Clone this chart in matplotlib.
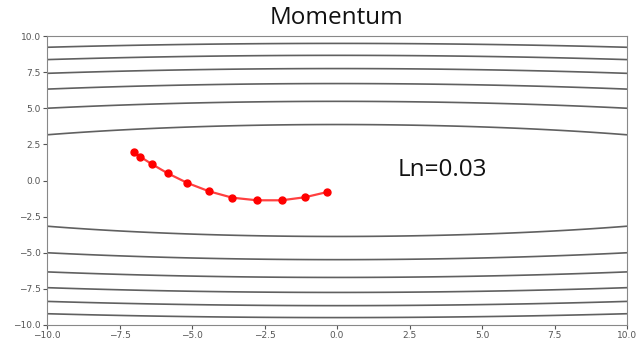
import matplotlib
matplotlib.use("Agg")
import matplotlib.pyplot as plt
import numpy as np

# trajectory
path_x = [-7.0, -6.79, -6.39, -5.84, -5.16, -4.41, -3.61, -2.76, -1.91, -1.11, -0.34]
path_y = [1.95, 1.65, 1.14, 0.50, -0.17, -0.75, -1.19, -1.37, -1.37, -1.16, -0.80]

# contour levels of f(x, y) = x^2 / 20 + y^2
levels = [0, 15, 30, 45, 60, 75, 90, 105]
x_ticks = [-10.0, -7.5, -5.0, -2.5, 0.0, 2.5, 5.0, 7.5, 10.0]
y_ticks = [-10.0, -7.5, -5.0, -2.5, 0.0, 2.5, 5.0, 7.5, 10.0]


def f(x, y):
    return x ** 2 / 20.0 + y ** 2


fig = plt.figure(figsize=(6.39, 3.47), dpi=100)
ax = fig.add_axes([47 / 639, 1 - 325 / 347, 580 / 639, 289 / 347])

gx = np.linspace(-10, 10, 801)
gy = np.linspace(-10, 10, 801)
X, Y = np.meshgrid(gx, gy)
ax.contour(X, Y, f(X, Y), levels=levels, colors="#606060", linewidths=1.2)

ax.plot(path_x, path_y, "-", color="red", lw=1.6, alpha=0.75)
ax.plot(path_x, path_y, "o", color="red", ms=5, mec="red")

ax.set_xlim(-10, 10)
ax.set_ylim(-10, 10)
ax.set_xticks(x_ticks)
ax.set_yticks(y_ticks)
ax.set_xticklabels([f"{v:.1f}".replace("-", "\u2212") for v in x_ticks])
ax.set_yticklabels([f"{v:.1f}".replace("-", "\u2212") for v in y_ticks])
ax.tick_params(labelsize=6.5, colors="#555555", length=3, pad=1.5)
for sp in ax.spines.values():
    sp.set_color("#888888")

fig.text(336 / 639, 1 - 18 / 347, "Momentum", ha="center", va="center",
         fontsize=17.5, family="Open Sans", color="#111111")
ax.text(3.65, 0.7, "Ln=0.03", ha="center", va="center",
        fontsize=17.5, family="Open Sans", color="#111111")

fig.savefig("out.png", dpi=100)
